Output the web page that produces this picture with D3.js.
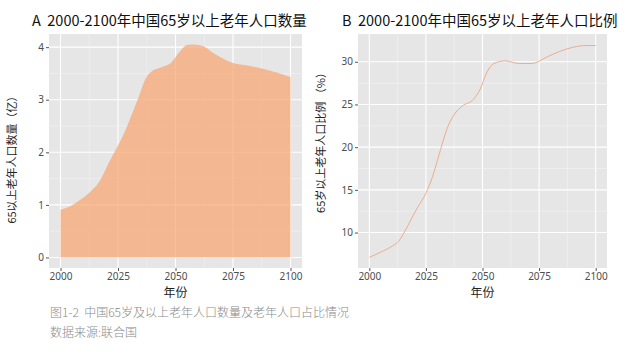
<!DOCTYPE html>
<html>
<head>
<meta charset="utf-8">
<script src="https://cdn.jsdelivr.net/npm/d3@7"></script>
<style>
  body { margin: 0; background: #fff; }
  text { font-family: "Noto Sans CJK SC", "Noto Sans", sans-serif; white-space: pre; }
</style>
</head>
<body>
<div id="container"></div>
<script>
const width = 640,
    height = 354

// panel A: 65+ population (100 million)
const yearsA = [2000, 2004, 2008, 2013, 2017, 2021, 2024, 2027, 2030, 2034, 2037, 2040, 2044, 2048, 2052, 2055, 2058, 2062, 2066, 2070, 2075, 2080, 2087, 2094, 2100]
const popA = [0.91, 0.97, 1.08, 1.25, 1.45, 1.80, 2.05, 2.30, 2.61, 3.05, 3.40, 3.55, 3.62, 3.70, 3.92, 4.04, 4.05, 4.02, 3.90, 3.80, 3.70, 3.66, 3.60, 3.52, 3.43]

// panel B: share of 65+ (%)
const yearsB = [2000, 2005, 2010, 2013, 2017, 2021, 2025, 2028, 2031, 2035, 2038, 2041, 2046, 2049, 2052, 2055, 2060, 2066, 2072, 2078, 2084, 2090, 2096, 2100]
const shareB = [7.1, 7.7, 8.4, 9.0, 10.8, 12.8, 14.6, 16.6, 19.3, 22.6, 24.0, 24.8, 25.6, 26.8, 28.8, 29.8, 30.1, 29.8, 29.8, 30.5, 31.2, 31.7, 31.9, 31.9]

const xTicks = [2000, 2025, 2050, 2075, 2100]
const yTicksA = [0, 1, 2, 3, 4]
const yTicksB = [10, 15, 20, 25, 30]

const svg = d3.select("#container")
    .append("svg")
    .attr("width", width)
    .attr("height", height)

function panel(opts) {
    const { left, right, top, bottom, xDomain, yDomain, yTicks, title, ylab, ylabY } = opts
    const x = d3.scaleLinear().domain(xDomain).range([left, right])
    const y = d3.scaleLinear().domain(yDomain).range([bottom, top])
    const g = svg.append("g")

    g.append("rect")
        .attr("x", left).attr("y", top)
        .attr("width", right - left).attr("height", bottom - top)
        .attr("fill", "#e6e6e6")

    // minor grid
    const xMinor = xTicks.slice(0, -1).map(d => d + 12.5)
    const yMinor = yTicks.slice(0, -1).map((d, i) => (d + yTicks[i + 1]) / 2)
    g.selectAll(".xminor").data(xMinor).join("line")
        .attr("x1", d => x(d)).attr("x2", d => x(d))
        .attr("y1", top).attr("y2", bottom)
        .attr("stroke", "#f3f3f3").attr("stroke-width", 0.6)
    g.selectAll(".yminor").data(yMinor).join("line")
        .attr("x1", left).attr("x2", right)
        .attr("y1", d => y(d)).attr("y2", d => y(d))
        .attr("stroke", "#f3f3f3").attr("stroke-width", 0.6)

    // major grid
    g.selectAll(".xmajor").data(xTicks).join("line")
        .attr("x1", d => x(d)).attr("x2", d => x(d))
        .attr("y1", top).attr("y2", bottom)
        .attr("stroke", "#fff").attr("stroke-width", 1.1)
    g.selectAll(".ymajor").data(yTicks).join("line")
        .attr("x1", left).attr("x2", right)
        .attr("y1", d => y(d)).attr("y2", d => y(d))
        .attr("stroke", "#fff").attr("stroke-width", 1.1)

    // axes
    const xAxis = d3.axisBottom(x).tickValues(xTicks).tickSize(3).tickPadding(2).tickFormat(d3.format("d"))
    const gx = g.append("g")
        .attr("transform", `translate(0,${bottom})`)
        .call(xAxis)
    const yAxis = d3.axisLeft(y).tickValues(yTicks).tickSize(3).tickPadding(2).tickFormat(d3.format("d"))
    const gy = g.append("g")
        .attr("transform", `translate(${left},0)`)
        .call(yAxis)
    ;[gx, gy].forEach(a => {
        a.select(".domain").remove()
        a.selectAll(".tick line").attr("stroke", "#555")
        a.selectAll(".tick text").attr("fill", "#4d4d4d").style("font-size", "10px")
            .style("font-family", "'Noto Sans', sans-serif")
    })

    g.append("text")
        .attr("x", (left + right) / 2)
        .attr("y", bottom + 26)
        .attr("text-anchor", "middle")
        .attr("dominant-baseline", "middle")
        .attr("fill", "#222")
        .style("font-size", "12px")
        .text("年份")

    g.append("text")
        .attr("transform", `translate(${left - 36},${ylabY}) rotate(-90)`)
        .attr("text-anchor", "middle")
        .attr("dominant-baseline", "middle")
        .attr("fill", "#222")
        .style("font-size", "11px")
        .text(ylab)

    g.append("text")
        .attr("x", opts.titleX)
        .attr("y", 26)
        .attr("fill", "#111")
        .style("font-size", "14.5px")
        .style("font-weight", 400)
        .text(title)

    return { g, x, y }
}

// PANEL A
const A = panel({
    left: 49, right: 302, top: 34, bottom: 268,
    xDomain: [1995, 2105], yDomain: [-0.2, 4.25],
    yTicks: yTicksA,
    title: "A  2000-2100年中国65岁以上老年人口数量",
    titleX: 32,
    ylab: "65以上老年人口数量（亿）",
    ylabY: 157
})

const area = d3.area()
    .x(d => A.x(d[0]))
    .y0(A.y(0))
    .y1(d => A.y(d[1]))
    .curve(d3.curveMonotoneX)

A.g.append("path")
    .datum(d3.zip(yearsA, popA))
    .attr("d", area)
    .attr("fill", "#f8a26c")
    .attr("fill-opacity", 0.7)

// PANEL B
const B = panel({
    left: 358, right: 607, top: 34, bottom: 268,
    xDomain: [1995, 2105], yDomain: [5.85, 33.25],
    yTicks: yTicksB,
    title: "B  2000-2100年中国65岁以上老年人口比例",
    titleX: 342,
    ylab: "65岁以上老年人口比例 （%）",
    ylabY: 140
})

const line = d3.line()
    .x(d => B.x(d[0]))
    .y(d => B.y(d[1]))
    .curve(d3.curveMonotoneX)

B.g.append("path")
    .datum(d3.zip(yearsB, shareB))
    .attr("d", line)
    .attr("fill", "none")
    .attr("stroke", "#eaa684")
    .attr("stroke-width", 0.9)

// caption
svg.append("text")
    .attr("x", 50).attr("y", 317)
    .attr("fill", "#8a8a8a")
    .style("font-size", "12px")
    .style("font-weight", 300)
    .text("图1-2  中国65岁及以上老年人口数量及老年人口占比情况")

svg.append("text")
    .attr("x", 50).attr("y", 337)
    .attr("fill", "#8a8a8a")
    .style("font-size", "12px")
    .style("font-weight", 300)
    .text("数据来源:联合国")
</script>
</body>
</html>
